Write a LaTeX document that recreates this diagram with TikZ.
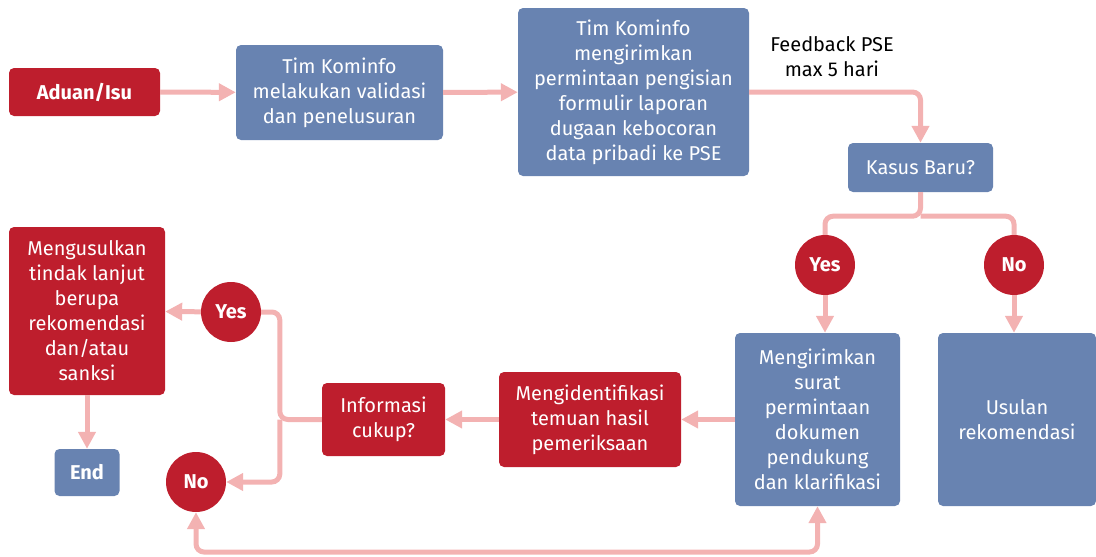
\documentclass[tikz,border=0pt]{standalone}
\usepackage{fontspec}
\setmainfont{Fira Sans}
\usepackage{tikz}
\usetikzlibrary{positioning,arrows.meta}
\definecolor{kred}{HTML}{BE1E2D}
\definecolor{kblue}{HTML}{6883B1}
\definecolor{kpink}{HTML}{F3B2B2}

\begin{document}
\begin{tikzpicture}[x=1pt,y=-1pt,
    every node/.style={font=\fontsize{20}{25}\selectfont,align=center,inner sep=0pt},
    redbox/.style={rounded corners=5pt,fill=kred,text=white},
    bluebox/.style={rounded corners=5pt,fill=kblue,text=white},
    answer/.style={circle,fill=kred,text=white,minimum size=60pt,font=\fontsize{20}{25}\selectfont\bfseries},
    line/.style={draw=kpink,line width=5pt,rounded corners=8pt},
    arr/.style={line,->},
    >={Triangle[length=17pt,width=17pt]}]
    \useasboundingbox (0,0) rectangle (1096,557);
    \node[redbox,minimum width=151pt,minimum height=48pt,font=\fontsize{20}{25}\selectfont\bfseries] (aduan) at (84.5,92) {Aduan/Isu};
    \node[bluebox,minimum width=207pt,minimum height=95pt] (val) at (339.5,92.5) {Tim Kominfo\\melakukan validasi\\dan penelusuran};
    \node[bluebox,minimum width=231pt,minimum height=168pt] (pse) at (633.5,92) {Tim Kominfo\\mengirimkan\\permintaan pengisian\\formulir laporan\\dugaan kebocoran\\data pribadi ke PSE};
    \node (feedback) at (832,57) {Feedback PSE\\max 5 hari};
    \node[bluebox,minimum width=145pt,minimum height=49pt] (kasus) at (920.5,167.5) {Kasus Baru?};
    \node[answer] (yesa) at (825,265) {Yes};
    \node[answer] (noa) at (1014,265) {No};
    \node[bluebox,minimum width=165pt,minimum height=173pt] (kirim) at (817.5,419.5) {Mengirimkan\\surat\\permintaan\\dokumen\\pendukung\\dan klarifikasi};
    \node[bluebox,minimum width=158pt,minimum height=173pt] (usulan) at (1017,419.5) {Usulan\\rekomendasi};
    \node[redbox,minimum width=182pt,minimum height=95pt] (ident) at (590,419.5) {Mengidentifikasi\\temuan hasil\\pemeriksaan};
    \node[redbox,minimum width=123pt,minimum height=73pt] (info) at (383.5,419.5) {Informasi\\cukup?};
    \node[answer] (yesb) at (231,312) {Yes};
    \node[answer] (nob) at (196,482) {No};
    \node[redbox,minimum width=156pt,minimum height=168pt] (usul) at (87,311) {Mengusulkan\\tindak lanjut\\berupa\\rekomendasi\\dan/atau\\sanksi};
    \node[bluebox,minimum width=65pt,minimum height=47pt,font=\fontsize{20}{25}\selectfont\bfseries] (ending) at (87,472.5) {End};
    \draw[arr] (aduan) -- (val);
    \draw[arr] (val) -- (pse);
    \draw[arr] (pse.east) -| (kasus.north);
    \draw[line] (kasus.south) -- ++(0,24) coordinate (split) -| (yesa);
    \draw[line] (split) -| (noa);
    \draw[arr] (yesa) -- (yesa |- kirim.north);
    \draw[arr] (noa) -- (noa |- usulan.north);
    \draw[arr] (kirim) -- (ident);
    \draw[arr] (ident) -- (info);
    \draw[line] (info.west) -- ++(-42,0) coordinate (fork) |- (yesb);
    \draw[arr] (fork) |- (nob);
    \draw[arr] (yesb) -- (usul);
    \draw[arr] (usul) -- (ending);
    \draw[arr,<->] (nob) -- ++(0,70) -| (kirim.south);
  \end{tikzpicture}
\end{document}
